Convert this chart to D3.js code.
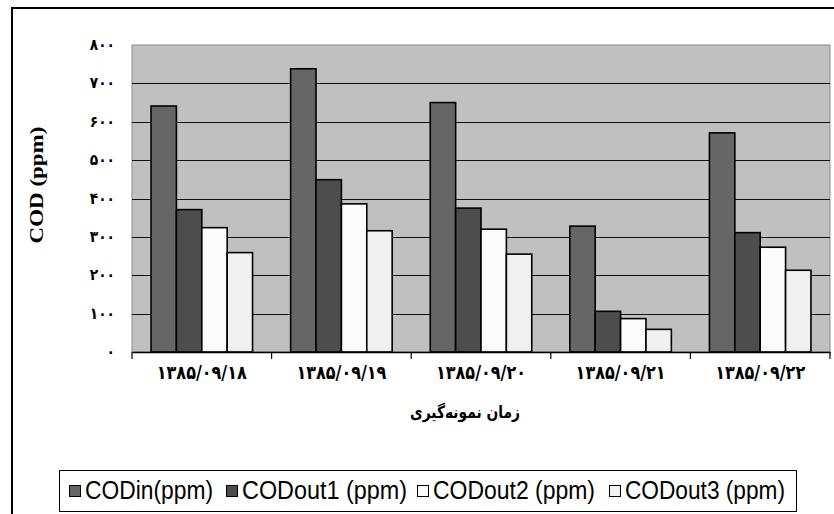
<!DOCTYPE html>
<html>
<head>
<meta charset="utf-8">
<script src="https://cdn.jsdelivr.net/npm/d3@7"></script>
<style>
  body { margin: 0; background: #fff; }
  svg { display: block; }
</style>
</head>
<body>
<svg id="chart"></svg>
<script>
// sampling dates (Persian calendar)
const dates = ['۱۳۸۵/۰۹/۱۸', '۱۳۸۵/۰۹/۱۹', '۱۳۸۵/۰۹/۲۰', '۱۳۸۵/۰۹/۲۱', '۱۳۸۵/۰۹/۲۲'];
const seriesNames = ['CODin(ppm)', 'CODout1 (ppm)', 'CODout2 (ppm)', 'CODout3 (ppm)'];

const codIn   = [641, 738, 650, 328, 571];
const codOut1 = [371, 449, 375, 106, 311];
const codOut2 = [324, 386, 320, 87, 273];
const codOut3 = [259, 316, 255, 59, 213];

const yTicks = [0, 100, 200, 300, 400, 500, 600, 700, 800];
const seriesColors = ['#666666', '#4d4d4d', '#fbfbfb', '#f1f1f1'];

const allSeries = [codIn, codOut1, codOut2, codOut3];

const width = 834, height = 514;
const margin = { top: 45, right: 4, bottom: 162, left: 132 };

const persianDigits = s => String(s).replace(/\d/g, c => '۰۱۲۳۴۵۶۷۸۹'[+c]);

const svg = d3.select('#chart')
    .attr('width', width)
    .attr('height', height);

// outer frame (runs off the right and bottom edge like the scan)
svg.append('rect')
    .attr('x', 12).attr('y', 8)
    .attr('width', 840).attr('height', 530)
    .attr('fill', '#fff')
    .attr('stroke', '#000')
    .attr('stroke-width', 2);

const x0 = d3.scaleBand()
    .domain(dates)
    .range([margin.left, width - margin.right]);

const x1 = d3.scaleBand()
    .domain(seriesNames)
    .range([0, x0.bandwidth()])
    .paddingInner(0)
    .paddingOuter(0.75);

const y = d3.scaleLinear()
    .domain([0, 800])
    .range([height - margin.bottom, margin.top]);

// plot background
svg.append('rect')
    .attr('x', margin.left)
    .attr('y', margin.top)
    .attr('width', width - margin.right - margin.left)
    .attr('height', y(0) - margin.top)
    .attr('fill', '#c0c0c0')
    .attr('stroke', '#8a8a8a')
    .attr('stroke-width', 1);

// gridlines
svg.append('g')
    .selectAll('line')
    .data(yTicks.filter(d => d > 0 && d < 800))
    .join('line')
    .attr('x1', margin.left)
    .attr('x2', width - margin.right)
    .attr('y1', d => Math.round(y(d)) + 0.5)
    .attr('y2', d => Math.round(y(d)) + 0.5)
    .attr('stroke', '#111')
    .attr('stroke-width', 1);

// bars
const groups = svg.append('g')
    .selectAll('g')
    .data(dates)
    .join('g')
    .attr('transform', d => `translate(${x0(d)},0)`);

groups.selectAll('rect')
    .data((d, i) => seriesNames.map((s, j) => ({ s: s, j: j, v: allSeries[j][i] })))
    .join('rect')
    .attr('x', d => x1(d.s))
    .attr('y', d => y(d.v))
    .attr('width', x1.bandwidth())
    .attr('height', d => y(0) - y(d.v))
    .attr('fill', d => seriesColors[d.j])
    .attr('stroke', '#000')
    .attr('stroke-width', 1.6);

// x axis
const gx = svg.append('g')
    .attr('transform', `translate(0, ${y(0)})`)
    .call(d3.axisBottom(x0).tickSize(0).tickFormat(''));
gx.select('.domain').attr('stroke', '#000').attr('stroke-width', 1.5);

svg.append('g')
    .selectAll('line')
    .data(d3.range(dates.length + 1))
    .join('line')
    .attr('x1', i => i < dates.length ? x0(dates[i]) : x0(dates[dates.length - 1]) + x0.bandwidth())
    .attr('x2', i => i < dates.length ? x0(dates[i]) : x0(dates[dates.length - 1]) + x0.bandwidth())
    .attr('y1', y(0))
    .attr('y2', y(0) + 7)
    .attr('stroke', '#000')
    .attr('stroke-width', 1.2);

svg.append('g')
    .selectAll('text')
    .data(dates)
    .join('text')
    .attr('x', d => x0(d) + x0.bandwidth() / 2)
    .attr('y', y(0) + 27)
    .attr('text-anchor', 'middle')
    .attr('font-family', 'DejaVu Sans')
    .attr('font-weight', 'bold')
    .attr('font-size', 19)
    .attr('textLength', 90)
    .attr('lengthAdjust', 'spacingAndGlyphs')
    .text(d => d);

// y tick labels
svg.append('g')
    .selectAll('text')
    .data(yTicks)
    .join('text')
    .attr('x', margin.left - 17)
    .attr('y', d => y(d) + 5)
    .attr('text-anchor', 'end')
    .attr('font-family', 'DejaVu Sans')
    .attr('font-weight', 'bold')
    .attr('font-size', 16)
    .attr('textLength', d => String(d).length * 8.4)
    .attr('lengthAdjust', 'spacingAndGlyphs')
    .text(d => persianDigits(d));

// axis titles
svg.append('text')
    .attr('transform', 'translate(43, 185) scale(0.8, 1) rotate(-90)')
    .attr('text-anchor', 'middle')
    .attr('font-family', 'Liberation Serif')
    .attr('font-weight', 'bold')
    .attr('font-size', 23)
    .text('COD (ppm)');

svg.append('text')
    .attr('x', 465)
    .attr('y', 418)
    .attr('text-anchor', 'middle')
    .attr('direction', 'rtl')
    .attr('font-family', 'DejaVu Sans')
    .attr('font-weight', 'bold')
    .attr('font-size', 17)
    .attr('textLength', 110)
    .attr('lengthAdjust', 'spacingAndGlyphs')
    .text('زمان نمونه‌گیری');

// legend
const legendX = [69, 226, 417, 609];
const legendW = [128, 165, 162, 160];

svg.append('rect')
    .attr('x', 59.5).attr('y', 470.5)
    .attr('width', 737).attr('height', 41)
    .attr('fill', '#fff')
    .attr('stroke', '#000')
    .attr('stroke-width', 1);

const legend = svg.append('g')
    .selectAll('g')
    .data(seriesNames)
    .join('g')
    .attr('transform', (d, i) => `translate(${legendX[i]}, 0)`);

legend.append('rect')
    .attr('x', 0.5).attr('y', 485.5)
    .attr('width', 11).attr('height', 11)
    .attr('fill', (d, i) => seriesColors[i])
    .attr('stroke', '#000')
    .attr('stroke-width', 1);

legend.append('text')
    .attr('x', 16)
    .attr('y', 499)
    .attr('font-family', 'Liberation Sans')
    .attr('font-size', 25)
    .attr('textLength', (d, i) => legendW[i])
    .attr('lengthAdjust', 'spacingAndGlyphs')
    .text(d => d);
</script>
</body>
</html>
